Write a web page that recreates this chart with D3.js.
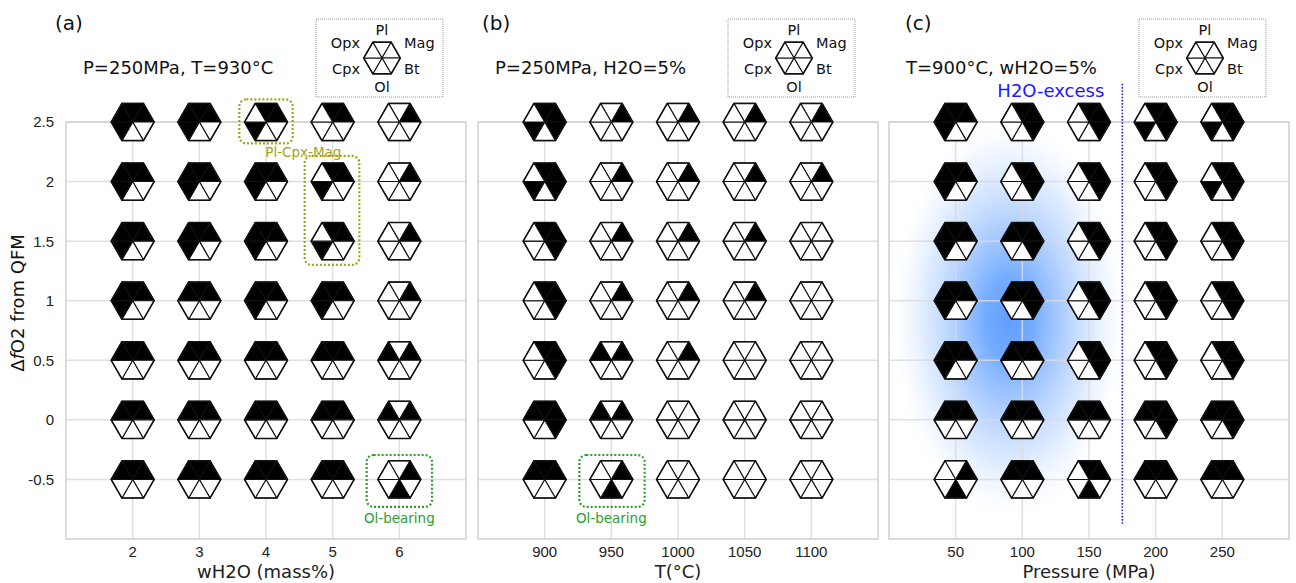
<!DOCTYPE html>
<html><head><meta charset="utf-8">
<script src="https://cdn.jsdelivr.net/npm/d3@7"></script>
<style>body{margin:0;background:#fff} svg{display:block}</style>
</head><body><svg id="c" width="1296" height="583"></svg>
<script>
// ---------------- data ----------------
const phases = ["Pl","Mag","Bt","Ol","Cpx","Opx"];       // triangle order: top, upper-right, lower-right, bottom, lower-left, upper-left
const yTicks = [2.5, 2, 1.5, 1, 0.5, 0, -0.5];            // ΔfO2 rows (top to bottom)
const xTicksA = [2, 3, 4, 5, 6];                          // wH2O (mass%)
const xTicksB = [900, 950, 1000, 1050, 1100];             // T (°C)
const xTicksC = [50, 100, 150, 200, 250];                 // P (MPa)

// phase assemblages, one row per yTick, one entry per x tick
const cellsA = [
  ["Opx Pl Mag Cpx","Opx Pl Mag Cpx","Pl Mag Cpx","Pl Mag","Mag"],
  ["Opx Pl Mag Cpx","Opx Pl Mag Cpx","Opx Pl Mag Cpx","Pl Mag Cpx","Mag"],
  ["Opx Pl Mag Cpx","Opx Pl Mag Cpx","Opx Pl Mag Cpx","Pl Mag Cpx","Mag"],
  ["Opx Pl Mag Cpx","Opx Pl Mag","Opx Pl Mag Cpx","Opx Pl Mag Cpx","Mag"],
  ["Opx Pl Mag","Opx Pl Mag","Opx Pl Mag","Opx Pl Mag","Opx Mag"],
  ["Opx Pl Mag","Opx Pl Mag","Opx Pl Mag","Opx Pl Mag","Opx Mag"],
  ["Opx Pl Mag","Opx Pl Mag","Opx Pl Mag","Opx Pl Mag","Mag Ol"]
];
const cellsB = [
  ["Pl Mag Bt Cpx","Mag","Mag","Mag","Mag"],
  ["Pl Mag Bt Cpx","Mag","Mag","Mag","Mag"],
  ["Pl Mag Bt","Mag","Mag","Mag",""],
  ["Pl Mag Bt","Mag","Mag","Mag",""],
  ["Pl Mag Bt","Opx Mag","Mag","",""],
  ["Opx Pl Mag Bt","Opx Mag","","",""],
  ["Opx Pl Mag","Mag Ol","","",""]
];
const cellsC = [
  ["Opx Pl Mag Cpx","Pl Mag Bt","Pl Mag Bt","Pl Mag Bt Cpx","Pl Mag Bt Cpx"],
  ["Opx Pl Mag Cpx","Pl Mag Bt","Pl Mag Bt","Pl Mag Bt","Pl Mag Bt Cpx"],
  ["Opx Pl Mag Cpx","Opx Pl Mag Bt","Pl Mag Bt","Pl Mag Bt","Pl Mag Bt"],
  ["Opx Pl Mag Cpx","Opx Pl Mag Bt","Pl Mag Bt","Pl Mag Bt","Pl Mag Bt"],
  ["Opx Pl Mag Cpx","Opx Pl Mag","Pl Mag Bt","Pl Mag Bt","Pl Mag Bt"],
  ["Opx Pl Mag","Opx Pl Mag","Opx Pl Mag","Opx Pl Mag Bt","Opx Pl Mag Bt"],
  ["Mag Ol","Opx Pl Mag","Pl Mag Ol","Opx Pl Mag","Opx Pl Mag"]
];

const titles = ["P=250MPa, T=930°C", "P=250MPa, H2O=5%", "T=900°C, wH2O=5%"];
const panelLabels = ["(a)", "(b)", "(c)"];
const xLabels = ["wH2O (mass%)", "T(°C)", "Pressure (MPa)"];

// annotation boxes in data units
const boxesA = [
  {x0: 3.6, x1: 4.4, y0: 2.32, y1: 2.69, kind: "olive"},
  {x0: 4.58, x1: 5.4, y0: 1.30, y1: 2.215, kind: "olive"},
  {x0: 5.51, x1: 6.49, y0: -0.73, y1: -0.295, kind: "green"}
];
const boxesB = [
  {x0: 926, x1: 975, y0: -0.73, y1: -0.295, kind: "green"}
];
const notesA = [
  {x: 4.56, y: 2.25, text: "Pl-Cpx-Mag", kind: "olive"},
  {x: 6.0, y: -0.83, text: "Ol-bearing", kind: "green"}
];
const notesB = [
  {x: 950, y: -0.83, text: "Ol-bearing", kind: "green"}
];
const h2oLine = {x: 175, y0: -0.88, y1: 2.82};
const glow = {x: 90, y: 0.85, rx: 90, ry: 1.72};

// ---------------- drawing ----------------
const svg = d3.select("#c");
const FONT = "DejaVu Sans, Verdana, sans-serif";
const TICKFONT = "Liberation Sans, Arial, sans-serif";
const colors = {olive: "#a3a31f", green: "#2ca02c"};
const R = 21.5;

const y = d3.scaleLinear().domain([-1, 2.5]).range([539, 122]);

const panels = [
  {xs: xTicksA, cells: cellsA, dom: [1, 7], rng: [66, 466], labelX: 55, boxes: boxesA, notes: notesA},
  {xs: xTicksB, cells: cellsB, dom: [850, 1150], rng: [478, 878], labelX: 482, boxes: boxesB, notes: notesB},
  {xs: xTicksC, cells: cellsC, dom: [0, 300], rng: [889, 1289], labelX: 905, boxes: [], notes: []}
];

const defs = svg.append("defs");
const rg = defs.append("radialGradient").attr("id", "glow");
[[0, "#4a90ff", 0.88], [0.2, "#5197ff", 0.8], [0.45, "#78adff", 0.6], [0.7, "#a6c9ff", 0.38], [0.87, "#d2e4ff", 0.18], [1, "#ffffff", 0]]
  .forEach(s => rg.append("stop").attr("offset", s[0]).attr("stop-color", s[1]).attr("stop-opacity", s[2]));

function hexTriangles(cx, cy, r) {
  const seg = {Pl: [-120, -60], Mag: [-60, 0], Bt: [0, 60], Ol: [60, 120], Cpx: [120, 180], Opx: [180, 240]};
  return phases.map(p => {
    const [a0, a1] = seg[p].map(a => a * Math.PI / 180);
    return {phase: p, d: `M${cx},${cy}L${cx + r * Math.cos(a0)},${cy + r * Math.sin(a0)}L${cx + r * Math.cos(a1)},${cy + r * Math.sin(a1)}Z`};
  });
}
function hexOutline(cx, cy, r) {
  return d3.range(6).map(i => {
    const a = i * Math.PI / 3;
    return [cx + r * Math.cos(a), cy + r * Math.sin(a)];
  });
}
function drawHex(g, cx, cy, r, present) {
  const hg = g.append("g");
  hg.selectAll("path").data(hexTriangles(cx, cy, r)).join("path")
    .attr("d", d => d.d)
    .attr("fill", d => present.has(d.phase) ? "#000" : "#fff")
    .attr("stroke", "#111").attr("stroke-width", 1.1).attr("stroke-linejoin", "round");
  hg.append("polygon").attr("points", hexOutline(cx, cy, r).map(p => p.join(",")).join(" "))
    .attr("fill", "none").attr("stroke", "#111").attr("stroke-width", 1.5).attr("stroke-linejoin", "round");
}

panels.forEach((P, pi) => {
  const x = d3.scaleLinear().domain(P.dom).range(P.rng);
  const g = svg.append("g");

  if (pi === 2) {
    g.append("ellipse")
      .attr("cx", x(glow.x)).attr("cy", y(glow.y))
      .attr("rx", x(glow.x + glow.rx) - x(glow.x)).attr("ry", y(glow.y) - y(glow.y + glow.ry))
      .attr("fill", "url(#glow)");
  }

  g.selectAll(".vg").data(P.xs).join("line")
    .attr("x1", d => x(d)).attr("x2", d => x(d)).attr("y1", y(2.5)).attr("y2", y(-1))
    .attr("stroke", "#dadada").attr("stroke-width", 1.5).attr("stroke-opacity", 0.85);
  g.selectAll(".hg").data(yTicks).join("line")
    .attr("x1", P.rng[0]).attr("x2", P.rng[1]).attr("y1", d => y(d)).attr("y2", d => y(d))
    .attr("stroke", "#dadada").attr("stroke-width", 1.5).attr("stroke-opacity", 0.85);
  g.append("rect").attr("x", P.rng[0]).attr("y", y(2.5)).attr("width", P.rng[1] - P.rng[0]).attr("height", y(-1) - y(2.5))
    .attr("fill", "none").attr("stroke", "#cfcfcf").attr("stroke-width", 1.5);

  g.selectAll(".xt").data(P.xs).join("text")
    .attr("x", d => x(d)).attr("y", 557).attr("text-anchor", "middle")
    .attr("font-family", TICKFONT).attr("font-size", 15).attr("fill", "#222").text(d => d);
  if (pi === 0) {
    g.selectAll(".yt").data(yTicks).join("text")
      .attr("x", P.rng[0] - 12).attr("y", d => y(d)).attr("dy", "0.36em").attr("text-anchor", "end")
      .attr("font-family", TICKFONT).attr("font-size", 15).attr("fill", "#222").text(d => d);
  }
  g.append("text").attr("x", (P.rng[0] + P.rng[1]) / 2).attr("y", 578).attr("text-anchor", "middle")
    .attr("font-family", FONT).attr("font-size", 18).attr("fill", "#222").text(xLabels[pi]);

  g.append("text").attr("x", P.labelX).attr("y", 30).attr("font-family", FONT).attr("font-size", 20).attr("fill", "#111").text(panelLabels[pi]);
  g.append("text").attr("x", P.rng[0] + 17).attr("y", 74).attr("font-family", FONT).attr("font-size", 18).attr("fill", "#111").text(titles[pi]);

  const lx1 = P.rng[1] - 23, lx0 = lx1 - 127;
  g.append("rect").attr("x", lx0).attr("y", 19).attr("width", 127).attr("height", 78)
    .attr("fill", "#fff").attr("stroke", "#9a9a9a").attr("stroke-width", 1).attr("stroke-dasharray", "1,1");
  const hcx = lx0 + 66, hcy = 58;
  drawHex(g, hcx, hcy, 18.3, new Set());
  const lg = [["Pl", hcx, 35, "middle"], ["Opx", hcx - 22, 48, "end"], ["Mag", hcx + 22, 48, "start"],
              ["Cpx", hcx - 22, 74, "end"], ["Bt", hcx + 22, 74, "start"], ["Ol", hcx, 92, "middle"]];
  g.selectAll(".lg").data(lg).join("text")
    .attr("x", d => d[1]).attr("y", d => d[2]).attr("text-anchor", d => d[3])
    .attr("font-family", FONT).attr("font-size", 14.5).attr("fill", "#111").text(d => d[0]);

  if (pi === 2) {
    g.append("line").attr("x1", x(h2oLine.x)).attr("x2", x(h2oLine.x)).attr("y1", y(h2oLine.y1)).attr("y2", y(h2oLine.y0))
      .attr("stroke", "#2222ee").attr("stroke-width", 1.6).attr("stroke-dasharray", "1.6,1.6");
    g.append("text").attr("x", x(h2oLine.x) - 18).attr("y", 97).attr("text-anchor", "end")
      .attr("font-family", FONT).attr("font-size", 18).attr("fill", "#1a1aff").text("H2O-excess");
  }

  yTicks.forEach((yv, ri) => {
    P.xs.forEach((xv, ci) => {
      const s = P.cells[ri][ci];
      drawHex(g, x(xv), y(yv), R, new Set(s ? s.split(" ") : []));
    });
  });

  g.selectAll(".bx").data(P.boxes).join("rect")
    .attr("x", d => x(d.x0)).attr("y", d => y(d.y1))
    .attr("width", d => x(d.x1) - x(d.x0)).attr("height", d => y(d.y0) - y(d.y1))
    .attr("rx", 7).attr("fill", "none").attr("stroke", d => colors[d.kind])
    .attr("stroke-width", 2.2).attr("stroke-dasharray", "2,2");
  g.selectAll(".nt").data(P.notes).join("text")
    .attr("x", d => x(d.x)).attr("y", d => y(d.y)).attr("dy", "0.35em").attr("text-anchor", "middle")
    .attr("font-family", FONT).attr("font-size", 13.5).attr("fill", d => colors[d.kind]).text(d => d.text);
});

svg.append("text").attr("transform", "translate(24,303) rotate(-90)").attr("text-anchor", "middle")
  .attr("font-family", FONT).attr("font-size", 18).attr("fill", "#111")
  .call(t => { t.append("tspan").text("Δ"); t.append("tspan").attr("font-style", "italic").text("f"); t.append("tspan").text("O2 from QFM"); });
</script></body></html>
